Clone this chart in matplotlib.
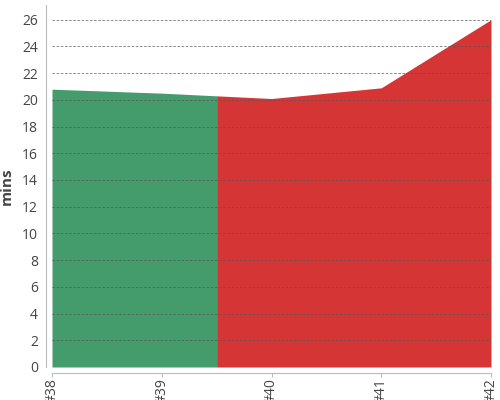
import numpy as np
import matplotlib.pyplot as plt

plt.rcParams['font.family'] = ['Open Sans', 'DejaVu Sans']

labels = ['#38', '#39', '#40', '#41', '#42']
mins = [20.8, 20.5, 20.1, 20.9, 26.0]
split_at = 1.5  # green up to halfway between #39 and #40

x = np.arange(len(labels), dtype=float)
y = np.array(mins, dtype=float)

fig = plt.figure(figsize=(5, 4), dpi=100)
ax = fig.add_axes([0.104, 0.0825, 0.878, 0.905])

ys = np.interp(split_at, x, y)
xg = np.append(x[x < split_at], split_at)
yg = np.append(y[x < split_at], ys)
xr = np.insert(x[x > split_at], 0, split_at)
yr = np.insert(y[x > split_at], 0, ys)

ax.fill_between(xg, 0, yg, color='#449c6d', linewidth=0, zorder=1)
ax.fill_between(xr, 0, yr, color='#d63536', linewidth=0, zorder=1)

ax.set_xlim(0, len(labels) - 1)
ax.set_ylim(0, 27.1)
ax.set_yticks(np.arange(0, 27, 2))
ax.set_xticks(x)
ax.set_xticklabels(labels, fontsize=6.8, color='#444444')
ax.tick_params(axis='y', labelsize=10, colors='#444444', length=0, pad=6)
ax.tick_params(axis='x', colors='#bbbbbb', labelcolor='#444444', length=3, pad=1,
               labelrotation=90)

ax.grid(axis='y', color='#555555', linestyle=(0, (3, 2)), linewidth=0.6, alpha=0.8, zorder=2)
ax.set_axisbelow(False)

for s in ['top', 'right']:
    ax.spines[s].set_visible(False)
ax.spines['left'].set_position(('outward', 4))
ax.spines['bottom'].set_position(('outward', 4))
ax.spines['left'].set_color('#bbbbbb')
ax.spines['bottom'].set_color('#bbbbbb')

ax.set_ylabel('mins', fontsize=11, fontweight='bold', color='#444444', labelpad=6)

fig.savefig('out.png', dpi=100)
